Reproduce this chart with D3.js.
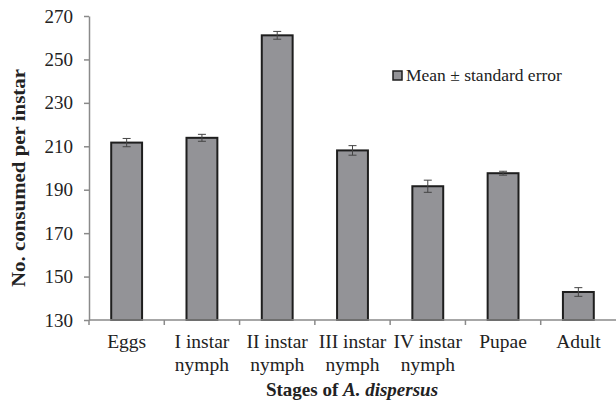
<!DOCTYPE html>
<html>
<head>
<meta charset="utf-8">
<script src="https://cdn.jsdelivr.net/npm/d3@7"></script>
</head>
<body style="margin:0;background:#fff">
<svg id="chart" width="616" height="403" style="font-family: 'Liberation Serif', Tinos, 'Times New Roman'"></svg>
<script>
const stages = [['Eggs'], ['I instar', 'nymph'], ['II instar', 'nymph'], ['III instar', 'nymph'],
    ['IV instar', 'nymph'], ['Pupae'], ['Adult']];
const means = [211.7, 213.9, 261.1, 208.1, 191.6, 197.6, 142.9];
const errors = [1.9, 1.6, 1.8, 2.2, 2.8, 0.9, 2.0];
const yTicks = [130, 150, 170, 190, 210, 230, 250, 270];

const FONT = '"Liberation Serif", Tinos, "Times New Roman"';

const svg = d3.select('#chart');
const margin = { top: 16, right: 0, bottom: 83, left: 89 };
const width = 616 - margin.left - margin.right;
const height = 403 - margin.top - margin.bottom;

const x = d3.scaleBand()
    .domain(stages.map((d, i) => i))
    .range([0, width])
    .paddingInner(0.59)
    .paddingOuter(0.295);

const y = d3.scaleLinear()
    .domain([130, 270])
    .range([height, 0]);

const chart = svg.append('g')
    .attr('transform', `translate(${margin.left},${margin.top})`);

// Bars
chart.selectAll('.bar')
    .data(means)
    .enter()
    .append('rect')
    .attr('class', 'bar')
    .attr('x', (d, i) => x(i))
    .attr('y', d => y(d))
    .attr('width', x.bandwidth())
    .attr('height', d => height - y(d))
    .attr('fill', '#939397')
    .attr('stroke', '#1e1e1e')
    .attr('stroke-width', 2);

// Error bars
const eb = chart.selectAll('.err')
    .data(means)
    .enter()
    .append('g')
    .attr('class', 'err')
    .attr('stroke', '#444')
    .attr('stroke-width', 1);

const cx = i => x(i) + x.bandwidth() / 2;
eb.append('line')
    .attr('x1', (d, i) => cx(i))
    .attr('x2', (d, i) => cx(i))
    .attr('y1', (d, i) => y(d + errors[i]))
    .attr('y2', (d, i) => y(d - errors[i]));
eb.append('line')
    .attr('x1', (d, i) => cx(i) - 4)
    .attr('x2', (d, i) => cx(i) + 4)
    .attr('y1', (d, i) => y(d + errors[i]))
    .attr('y2', (d, i) => y(d + errors[i]));
eb.append('line')
    .attr('x1', (d, i) => cx(i) - 4)
    .attr('x2', (d, i) => cx(i) + 4)
    .attr('y1', (d, i) => y(d - errors[i]))
    .attr('y2', (d, i) => y(d - errors[i]));

// Y-axis
const yAxis = chart.append('g')
    .call(d3.axisLeft(y).tickValues(yTicks).tickSize(5).tickSizeOuter(0).tickPadding(11))
    .attr('font-family', null)
    .attr('font-size', null);
yAxis.selectAll('line, path').attr('stroke', '#8a8a8a').attr('stroke-width', 1.5);
yAxis.selectAll('text')
    .attr('fill', '#222')
    .style('font-family', FONT)
    .style('font-size', '19px');

// X-axis (ticks at band boundaries)
chart.append('line')
    .attr('x1', 0).attr('x2', width)
    .attr('y1', height).attr('y2', height)
    .attr('stroke', '#8a8a8a').attr('stroke-width', 1.5);

const step = x.step();
chart.selectAll('.xtick')
    .data(d3.range(stages.length))
    .enter()
    .append('line')
    .attr('x1', i => x(i) - (step - x.bandwidth()) / 2)
    .attr('x2', i => x(i) - (step - x.bandwidth()) / 2)
    .attr('y1', height)
    .attr('y2', height + 5)
    .attr('stroke', '#8a8a8a')
    .attr('stroke-width', 1.5);

const labels = chart.selectAll('.xlabel')
    .data(stages)
    .enter()
    .append('text')
    .attr('class', 'xlabel')
    .attr('text-anchor', 'middle')
    .attr('fill', '#222')
    .style('font-family', FONT)
    .style('font-size', '19.5px')
    .attr('transform', (d, i) => `translate(${cx(i)},${height + 28})`);
labels.selectAll('tspan')
    .data(d => d)
    .enter()
    .append('tspan')
    .attr('x', 0)
    .attr('dy', (d, i) => i === 0 ? 0 : 22.5)
    .text(d => d);

// X-axis title
const xt = svg.append('text')
    .attr('x', 352)
    .attr('y', 396)
    .attr('text-anchor', 'middle')
    .attr('fill', '#222')
    .style('font-family', FONT)
    .style('font-size', '19px')
    .style('font-weight', 'bold');
xt.append('tspan').text('Stages of ');
xt.append('tspan').style('font-style', 'italic').text('A. dispersus');

// Y-axis title
svg.append('text')
    .attr('transform', 'rotate(-90)')
    .attr('x', -178)
    .attr('y', 25)
    .attr('text-anchor', 'middle')
    .attr('fill', '#222')
    .attr('textLength', 218)
    .attr('lengthAdjust', 'spacingAndGlyphs')
    .style('font-family', FONT)
    .style('font-size', '19px')
    .style('font-weight', 'bold')
    .text('No. consumed per instar');

// Legend
const legend = svg.append('g').attr('transform', 'translate(393,71)');
legend.append('rect')
    .attr('width', 9).attr('height', 9)
    .attr('fill', '#939397')
    .attr('stroke', '#1e1e1e')
    .attr('stroke-width', 1.5);
legend.append('text')
    .attr('x', 13).attr('y', 10)
    .attr('fill', '#222')
    .style('font-family', FONT)
    .style('font-size', '17.5px')
    .text('Mean ± standard error');
</script>
</body>
</html>
